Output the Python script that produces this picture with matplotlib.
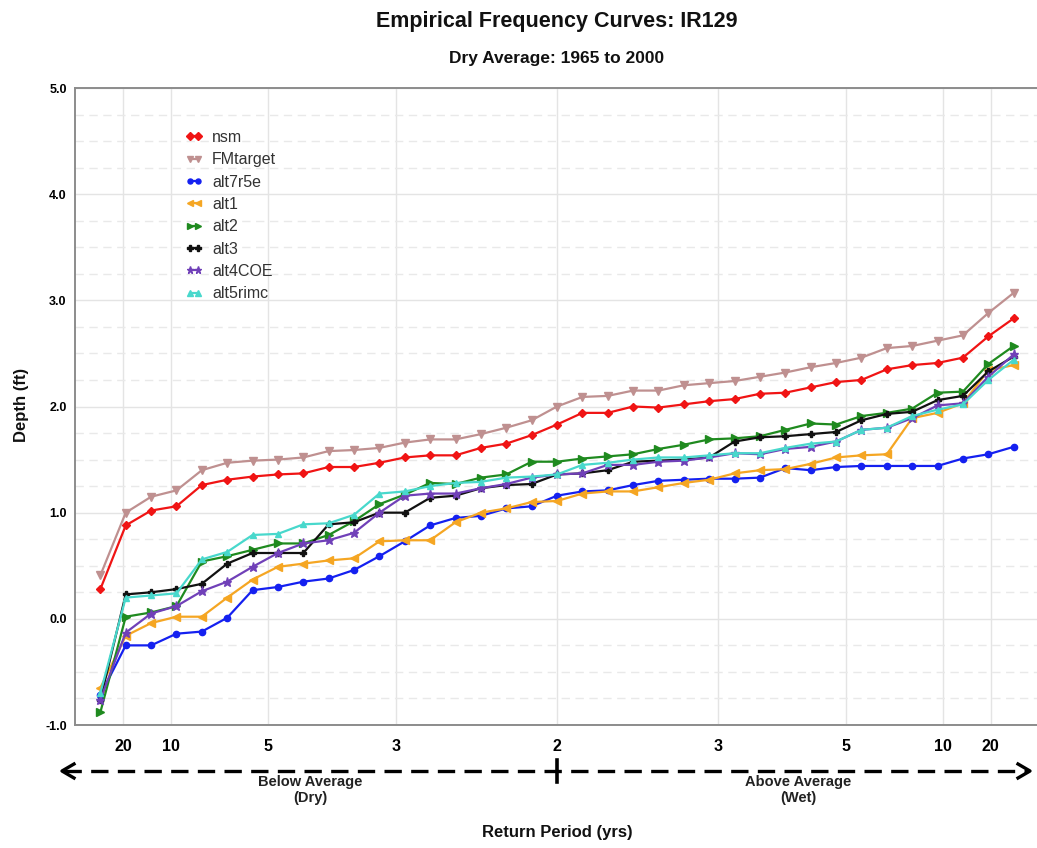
import matplotlib
matplotlib.use("Agg")
import matplotlib.pyplot as plt
from matplotlib import font_manager
from matplotlib.lines import Line2D
import numpy as np

# ---- data: depth (ft) for each ranked year, 1965-2000 dry-average record ----
series_names = ["nsm", "FMtarget", "alt7r5e", "alt1", "alt2", "alt3", "alt4COE", "alt5rimc"]

nsm = [0.28, 0.88, 1.02, 1.06, 1.26, 1.31, 1.34, 1.36, 1.37, 1.43, 1.43, 1.47, 1.52,
       1.54, 1.54, 1.61, 1.65, 1.73, 1.83, 1.94, 1.94, 2.00, 1.99, 2.02, 2.05, 2.07,
       2.12, 2.13, 2.18, 2.23, 2.25, 2.35, 2.39, 2.41, 2.46, 2.66, 2.83]
fmtarget = [0.41, 1.00, 1.15, 1.21, 1.40, 1.47, 1.49, 1.50, 1.52, 1.58, 1.59, 1.61, 1.66,
            1.69, 1.69, 1.74, 1.80, 1.87, 2.00, 2.09, 2.10, 2.15, 2.15, 2.20, 2.22, 2.24,
            2.28, 2.32, 2.37, 2.41, 2.46, 2.55, 2.57, 2.62, 2.67, 2.88, 3.07]
alt7r5e = [-0.72, -0.25, -0.25, -0.14, -0.12, 0.01, 0.27, 0.30, 0.35, 0.38, 0.46, 0.59, 0.73,
           0.88, 0.95, 0.97, 1.04, 1.06, 1.16, 1.20, 1.21, 1.26, 1.30, 1.31, 1.32, 1.32,
           1.33, 1.42, 1.40, 1.43, 1.44, 1.44, 1.44, 1.44, 1.51, 1.55, 1.62]
alt1 = [-0.65, -0.16, -0.04, 0.02, 0.02, 0.20, 0.37, 0.49, 0.52, 0.55, 0.57, 0.73, 0.74,
        0.74, 0.91, 1.00, 1.04, 1.10, 1.11, 1.18, 1.20, 1.20, 1.24, 1.28, 1.31, 1.37,
        1.40, 1.41, 1.46, 1.52, 1.54, 1.55, 1.89, 1.94, 2.03, 2.34, 2.39]
alt2 = [-0.88, 0.02, 0.06, 0.12, 0.54, 0.59, 0.65, 0.71, 0.71, 0.79, 0.92, 1.08, 1.17,
        1.28, 1.27, 1.33, 1.36, 1.48, 1.48, 1.51, 1.53, 1.55, 1.60, 1.64, 1.69, 1.70,
        1.72, 1.78, 1.84, 1.83, 1.91, 1.94, 1.98, 2.13, 2.14, 2.40, 2.57]
alt3 = [-0.76, 0.23, 0.25, 0.28, 0.33, 0.52, 0.62, 0.62, 0.62, 0.89, 0.91, 1.00, 1.00,
        1.14, 1.16, 1.23, 1.26, 1.27, 1.36, 1.37, 1.40, 1.48, 1.49, 1.50, 1.52, 1.67,
        1.71, 1.72, 1.74, 1.76, 1.87, 1.93, 1.95, 2.06, 2.10, 2.33, 2.47]
alt4coe = [-0.76, -0.13, 0.05, 0.12, 0.26, 0.35, 0.49, 0.62, 0.71, 0.74, 0.81, 1.00, 1.16,
           1.18, 1.18, 1.23, 1.27, 1.33, 1.36, 1.37, 1.45, 1.45, 1.48, 1.49, 1.52, 1.56,
           1.55, 1.60, 1.62, 1.67, 1.78, 1.80, 1.89, 2.01, 2.03, 2.28, 2.49]
alt5rimc = [-0.70, 0.20, 0.22, 0.24, 0.56, 0.63, 0.79, 0.80, 0.89, 0.90, 0.98, 1.18, 1.20,
            1.25, 1.28, 1.29, 1.33, 1.34, 1.36, 1.45, 1.47, 1.50, 1.52, 1.52, 1.54, 1.56,
            1.56, 1.61, 1.65, 1.67, 1.78, 1.80, 1.91, 1.97, 2.02, 2.25, 2.44]

# return-period ticks: dry side (non-exceedance 1/T), wet side (1 - 1/T)
return_periods = [20, 10, 5, 3, 2, 3, 5, 10, 20]
tick_side = ["dry", "dry", "dry", "dry", "mid", "wet", "wet", "wet", "wet"]

# ---- styling ----
colors = ["#f01414", "#bf9090", "#1420f0", "#f5a623", "#1f8a1f", "#111111", "#7040b8", "#48d8cc"]
markers = ["D", "v", "o", "<", ">", "P", "*", "^"]
msizes = [4.5, 6, 4.5, 5.5, 5.5, 5, 6.5, 5]

available = {f.name for f in font_manager.fontManager.ttflist}
base_font = "Liberation Sans" if "Liberation Sans" in available else "DejaVu Sans"
narrow_font = "Liberation Sans Narrow" if "Liberation Sans Narrow" in available else base_font
plt.rcParams["font.family"] = [base_font, "DejaVu Sans"]

W, H = 1037, 848
fig = plt.figure(figsize=(W / 100, H / 100), dpi=100)


def fx(px):
    return px / W


def fy(py):
    return 1 - py / H


ax_left, ax_right, ax_top, ax_bot = 75, 1039, 88, 725
ax = fig.add_axes([fx(ax_left), fy(ax_bot), (ax_right - ax_left) / W, (ax_bot - ax_top) / H])

all_series = [nsm, fmtarget, alt7r5e, alt1, alt2, alt3, alt4coe, alt5rimc]
n = len(nsm)
# Weibull plotting positions (non-exceedance probability)
prob = np.arange(1, n + 1) / (n + 1)

for name, vals, c, m, ms in zip(series_names, all_series, colors, markers, msizes):
    ax.plot(prob, vals, color=c, marker=m, markersize=ms, linewidth=1.6,
            markeredgecolor=c, label=name)

ax.set_xlim(0, 1)
ax.set_ylim(-1, 5)

tick_pos = []
for t, s in zip(return_periods, tick_side):
    if s == "wet":
        tick_pos.append(1 - 1 / t)
    else:
        tick_pos.append(1 / t)
ax.set_xticks(tick_pos)
ax.set_xticklabels([str(t) for t in return_periods], fontfamily=narrow_font,
                   fontweight="bold", fontsize=11.5)
ax.set_yticks(np.arange(-1, 5.01, 1.0))
ax.set_yticklabels([f"{v:.1f}" for v in np.arange(-1, 5.01, 1.0)], fontweight="bold", fontsize=9)
ax.set_yticks(np.arange(-1, 5.01, 0.25), minor=True)
ax.tick_params(axis="x", length=0, pad=10)
ax.tick_params(axis="y", which="both", length=0, pad=6)

ax.grid(True, which="major", axis="both", color="#e4e4e4", linewidth=1.0, linestyle="-")
ax.grid(True, which="minor", axis="y", color="#e9e9e9", linewidth=1.0, linestyle=(0, (6, 4)))
ax.set_axisbelow(True)

for side in ["left", "bottom", "top"]:
    ax.spines[side].set_color("#8c8c8c")
    ax.spines[side].set_linewidth(1.4)
ax.spines["right"].set_visible(False)

leg = ax.legend(loc="upper left", bbox_to_anchor=((185 - ax_left) / 964, (ax_bot - 130) / 637),
                frameon=False, fontsize=11.5, numpoints=2, handlelength=1.1,
                handletextpad=0.6, labelspacing=0.46, borderpad=0, borderaxespad=0,
                markerscale=0.8)
for txt in leg.get_texts():
    txt.set_color("#333333")

# titles and axis labels
fig.text(fx(557), fy(21), "Empirical Frequency Curves: IR129", ha="center", va="center",
         fontsize=15.5, fontweight="bold", color="#111111")
fig.text(fx(557), fy(59), "Dry Average: 1965 to 2000", ha="center", va="center",
         fontsize=12.5, fontweight="bold", color="#111111")
fig.text(fx(22), fy(405), "Depth (ft)", ha="center", va="center", rotation=90,
         fontsize=12, fontweight="bold", color="#111111")
fig.text(fx(557), fy(832), "Return Period (yrs)", ha="center", va="center",
         fontsize=12, fontweight="bold", color="#111111")

# below / above average arrow
arrow_y = 771
fig.add_artist(Line2D([fx(64), fx(1028)], [fy(arrow_y), fy(arrow_y)], color="black",
                      linewidth=2.4, linestyle=(0, (5.2, 2.8)), transform=fig.transFigure))
for tip, back in [(62, 74), (1030, 1018)]:
    fig.add_artist(Line2D([fx(back), fx(tip), fx(back)],
                          [fy(arrow_y - 7), fy(arrow_y), fy(arrow_y + 7)],
                          color="black", linewidth=2.4, transform=fig.transFigure))
fig.add_artist(Line2D([fx(557), fx(557)], [fy(arrow_y - 11), fy(arrow_y + 11)],
                      color="black", linewidth=2.6, transform=fig.transFigure))
for cx, lab in [(310, "Below Average\n(Dry)"), (798, "Above Average\n(Wet)")]:
    fig.text(fx(cx), fy(790), lab, ha="center", va="center", fontsize=10.5,
             fontfamily=narrow_font, fontweight="bold", color="#222222", linespacing=1.15)

fig.savefig("out.png", dpi=100, facecolor="white")
